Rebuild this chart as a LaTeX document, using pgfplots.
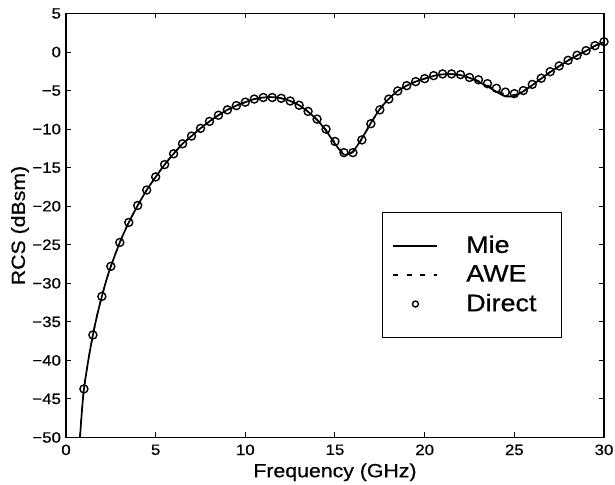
\documentclass[border=0pt]{standalone}
\usepackage{pgfplots}
\pgfplotsset{compat=1.18}
\usepackage{fontspec}
\setmainfont[FakeStretch=1.12, FakeBold=0.6]{Liberation Sans}
\pgfplotsset{
  lineleg/.style={legend image code/.code={\draw[##1] (0pt,0pt) -- (22pt,0pt);}},
  markleg/.style={legend image code/.code={\draw[##1, mark size=1.5pt] plot coordinates {(11pt,0pt)};}},
}
\begin{document}
\begin{tikzpicture}
\useasboundingbox (-33pt,-23.65pt) rectangle (274.5pt,218.75pt);
\begin{axis}[
  at={(0pt,0pt)}, anchor=south west,
  scale only axis, width=269pt, height=212pt,
  xmin=0, xmax=30, ymin=-50, ymax=5,
  xtick={0,5,...,30}, ytick={-50,-45,...,5},
  yticklabels={−50,−45,−40,−35,−30,−25,−20,−15,−10,−5,0,5},
  tick align=inside, tick pos=both,
  major tick length=2.5pt,
  axis line style={line width=0.75pt},
  every tick/.style={line width=0.5pt, black},
  /pgf/number format/assume math mode=true,
  tick label style={font=\fontsize{7.5}{9}\selectfont},
  yticklabel style={xshift=1pt},
  label style={font=\fontsize{9.5}{11}\selectfont},
  xlabel={Frequency (GHz)}, ylabel={RCS (dBsm)},
  xlabel style={at={(axis description cs:0.5,0)}, anchor=center, yshift=-17.4pt},
  ylabel style={at={(axis description cs:0,0.5)}, anchor=center, yshift=23pt},
  clip=true,
  legend style={at={(axis cs:17.62,-20.74)}, anchor=north west, draw=black, line width=0.6pt,
    font=\fontsize{12}{14}\selectfont, inner xsep=5pt, inner ysep=11.5pt,
    row sep=4.6pt, column sep=14pt,
    nodes={inner sep=0pt, text width=42.5pt, align=left}},
  legend cell align=left,
]
\addplot[black, line width=0.85pt, smooth, tension=0.4, lineleg] coordinates {
(0.78,-50) (0.88,-46.8) (1.0,-43.7) (1.25,-39.9) (1.5,-36.7) (1.75,-34.0) (2.0,-31.7) (2.25,-29.6) (2.5,-27.8)
(3.0,-24.7) (3.5,-22.1) (4.0,-19.9) (4.5,-17.9) (5.0,-16.2) (5.5,-14.6) (6.0,-13.2) (6.5,-11.9)
(7.0,-10.9) (7.5,-9.9) (8.0,-9.0) (8.5,-8.2) (9.0,-7.5) (9.5,-6.95) (10.0,-6.5) (10.5,-6.1)
(11.0,-5.9) (11.5,-5.85) (12.0,-6.0) (12.5,-6.35) (13.0,-6.9) (13.5,-7.75) (14.0,-8.8) (14.5,-10.2)
(15.0,-11.9) (15.5,-13.3) (16.0,-12.9) (16.5,-11.2) (17.0,-9.2) (17.5,-7.4) (18.0,-6.05) (18.5,-5.05)
(19.0,-4.36) (19.5,-3.84) (20.0,-3.45) (20.5,-3.1) (21.0,-2.9) (21.5,-2.88) (22.0,-3.0) (22.5,-3.35)
(23.0,-3.85) (23.5,-4.45) (24.0,-5.15) (24.5,-5.75) (25.0,-5.7) (25.5,-5.1) (26.0,-4.3) (26.5,-3.45)
(27.0,-2.6) (27.5,-1.85) (28.0,-1.1) (28.5,-0.45) (29.0,0.15) (29.5,0.8) (30.0,1.3)
};
\addlegendentry{Mie}
\addplot[black, line width=0.7pt, dash pattern=on 2.5pt off 4.2pt, smooth, tension=0.4, lineleg] coordinates {
(0.78,-50) (0.88,-46.8) (1.0,-43.7) (1.25,-39.9) (1.5,-36.7) (1.75,-34.0) (2.0,-31.7) (2.25,-29.6) (2.5,-27.8)
(3.0,-24.7) (3.5,-22.1) (4.0,-19.9) (4.5,-17.9) (5.0,-16.2) (5.5,-14.6) (6.0,-13.2) (6.5,-11.9)
(7.0,-10.9) (7.5,-9.9) (8.0,-9.0) (8.5,-8.2) (9.0,-7.5) (9.5,-6.95) (10.0,-6.5) (10.5,-6.1)
(11.0,-5.9) (11.5,-5.85) (12.0,-6.0) (12.5,-6.35) (13.0,-6.9) (13.5,-7.7) (14.0,-8.75) (14.5,-10.1)
(15.0,-11.75) (15.5,-13.2) (16.0,-13.0) (16.5,-11.3) (17.0,-9.25) (17.5,-7.45) (18.0,-6.1) (18.5,-5.05)
(19.0,-4.36) (19.5,-3.84) (20.0,-3.45) (20.5,-3.08) (21.0,-2.87) (21.5,-2.86) (22.0,-2.97) (22.5,-3.3)
(23.0,-3.75) (23.5,-4.3) (24.0,-4.95) (24.5,-5.5) (25.0,-5.55) (25.5,-5.05) (26.0,-4.25) (26.5,-3.42)
(27.0,-2.58) (27.5,-1.82) (28.0,-1.08) (28.5,-0.43) (29.0,0.17) (29.5,0.82) (30.0,1.32)
};
\addlegendentry{AWE}
\addplot[black, only marks, mark=o, mark size=2pt, mark options={line width=0.7pt}, markleg] coordinates {
(1.0,-43.7) (1.5,-36.7) (2.0,-31.7) (2.5,-27.8) (3.0,-24.7) (3.5,-22.1) (4.0,-19.9) (4.5,-17.9)
(5.0,-16.2) (5.5,-14.6) (6.0,-13.2) (6.5,-11.9) (7.0,-10.9) (7.5,-9.9) (8.0,-9.0) (8.5,-8.2)
(9.0,-7.5) (9.5,-6.95) (10.0,-6.5) (10.5,-6.1) (11.0,-5.9) (11.5,-5.9) (12.0,-6.0) (12.5,-6.35)
(13.0,-6.9) (13.5,-7.7) (14.0,-8.7) (14.5,-10.0) (15.0,-11.6) (15.5,-13.05) (16.0,-13.05) (16.5,-11.4)
(17.0,-9.3) (17.5,-7.5) (18.0,-6.1) (18.5,-5.05) (19.0,-4.36) (19.5,-3.84) (20.0,-3.45) (20.5,-3.06)
(21.0,-2.84) (21.5,-2.84) (22.0,-2.93) (22.5,-3.3) (23.0,-3.6) (23.5,-4.1) (24.0,-4.7) (24.5,-5.2)
(25.0,-5.4) (25.5,-5.0) (26.0,-4.2) (26.5,-3.4) (27.0,-2.55) (27.5,-1.8) (28.0,-1.07) (28.5,-0.42)
(29.0,0.18) (29.5,0.83) (30.0,1.34)
};
\addlegendentry{Direct}
\end{axis}
\end{tikzpicture}
\end{document}
